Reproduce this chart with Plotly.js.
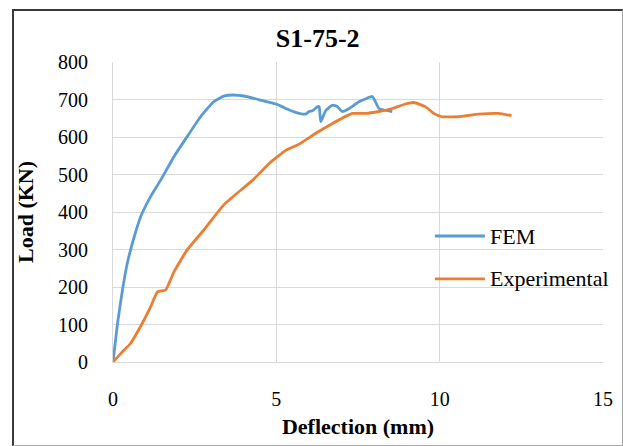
<!DOCTYPE html>
<html>
<head>
<meta charset="utf-8">
<script src="https://cdn.plot.ly/plotly-3.0.1.min.js"></script>
<style>
html,body{margin:0;padding:0;background:#fff;}
#wrap{position:absolute;left:0;top:0;width:623px;height:446px;}
#frame{position:absolute;left:12px;top:9px;width:608px;height:434px;border-left:2px solid #3a3a3a;border-top:2px solid #3a3a3a;border-right:1px solid #a8a8a8;border-bottom:1px solid #a8a8a8;pointer-events:none;z-index:5;}
#chart{position:absolute;left:0;top:0;width:623px;height:446px;}
</style>
</head>
<body>
<div id="wrap"><div id="chart"></div><div id="frame"></div></div>
<script>
const femX = [0, 0.14, 0.29, 0.44, 0.65, 0.85, 1.15, 1.46, 1.87, 2.27, 2.68, 3.08, 3.39, 3.67, 4.08, 4.58, 4.99, 5.2, 5.4, 5.7, 5.9, 6.0, 6.11, 6.26, 6.31, 6.36, 6.51, 6.72, 6.87, 7.02, 7.23, 7.53, 7.94, 8.0, 8.14, 8.29, 8.55];
const femY = [0, 104, 192, 264, 334, 388, 441, 485, 548, 601, 654, 694, 709, 712, 708, 697, 688, 680, 672, 663, 661, 668, 670, 681, 681, 641, 670, 685, 681, 668, 676, 694, 708, 700, 676, 672, 668];
const expX = [0, 0.24, 0.54, 0.95, 1.15, 1.36, 1.61, 1.87, 2.27, 2.78, 3.39, 3.77, 4.28, 4.79, 5.3, 5.7, 6.21, 6.72, 7.17, 7.33, 7.73, 8.14, 8.55, 8.95, 9.21, 9.56, 9.82, 10.07, 10.58, 11.19, 11.8, 12.2];
const expY = [0, 23, 50, 112, 147, 187, 192, 241, 299, 352, 419, 448, 485, 530, 565, 581, 610, 636, 657, 663, 663, 668, 676, 688, 692, 681, 663, 654, 654, 661, 663, 657];
const seriesNames = ['FEM', 'Experimental'];
const seriesColors = ['#5b9bd5', '#ed7d31'];
const xTicks = [0, 5, 10, 15];
const yTicks = [0, 100, 200, 300, 400, 500, 600, 700, 800];

const serif = '"Liberation Serif", "Times New Roman", serif';
const traces = [
  {x: femX, y: femY, name: seriesNames[0], mode: 'lines', line: {color: seriesColors[0], width: 2.8, shape: 'spline', smoothing: 0.4}},
  {x: expX, y: expY, name: seriesNames[1], mode: 'lines', line: {color: seriesColors[1], width: 2.8, shape: 'spline', smoothing: 0.4}}
];
// custom legend (paper coordinates)
const legY = [0.42, 0.277];
const shapes = seriesNames.map((n, i) => ({type: 'line', xref: 'paper', yref: 'paper', x0: 0.657, x1: 0.759, y0: legY[i], y1: legY[i], line: {color: seriesColors[i], width: 2.8}}));
const annotations = seriesNames.map((n, i) => ({xref: 'paper', yref: 'paper', x: 0.765, y: legY[i], xanchor: 'left', yanchor: 'middle', text: n, showarrow: false, font: {family: serif, size: 22, color: '#000'}}));

const layout = {
  width: 623, height: 446,
  margin: {l: 113, r: 20, t: 62, b: 84},
  paper_bgcolor: '#fff', plot_bgcolor: '#fff',
  font: {family: serif, size: 20, color: '#000'},
  title: {text: '<b>S1-75-2</b>', font: {family: serif, size: 26, color: '#000'}, x: 0.51, xanchor: 'center', y: 0.915, yanchor: 'middle'},
  xaxis: {
    range: [0, 15], tickvals: xTicks, ticktext: xTicks.map(String),
    showgrid: true, gridcolor: '#d9d9d9', gridwidth: 1,
    showline: true, linecolor: '#d9d9d9', linewidth: 1, mirror: false,
    zeroline: false, ticks: '', ticklabelstandoff: 19,
    tickfont: {family: serif, size: 20, color: '#000'},
    title: {text: '<b>Deflection (mm)</b>', font: {family: serif, size: 22, color: '#000'}, standoff: 9}
  },
  yaxis: {
    range: [0, 800], tickvals: yTicks, ticktext: yTicks.map(String),
    showgrid: true, gridcolor: '#d9d9d9', gridwidth: 1,
    showline: true, linecolor: '#d9d9d9', linewidth: 1,
    zeroline: false, ticks: '', ticklabelstandoff: 20,
    tickfont: {family: serif, size: 20, color: '#000'},
    title: {text: '<b>Load (KN)</b>', font: {family: serif, size: 22, color: '#000'}, standoff: 18}
  },
  shapes: shapes,
  annotations: annotations,
  showlegend: false
};
Plotly.newPlot('chart', traces, layout, {displayModeBar: false, staticPlot: true});
</script>
</body>
</html>
